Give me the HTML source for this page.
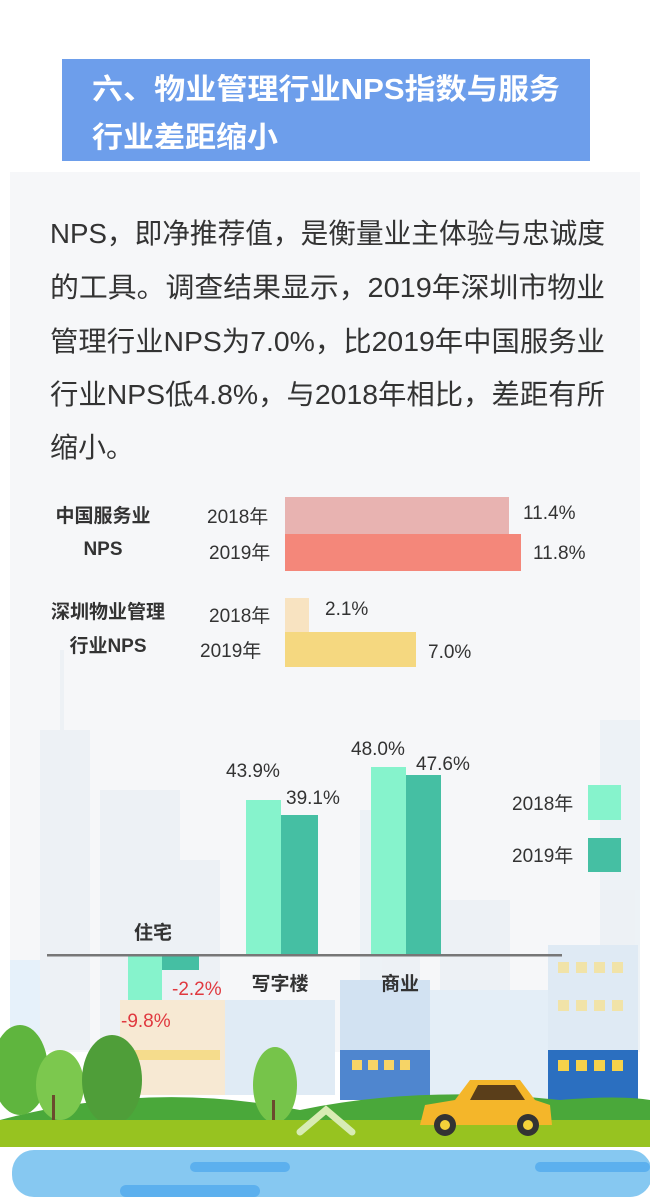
<!DOCTYPE html>
<html><head><meta charset="utf-8"><style>
html,body{margin:0;padding:0;width:650px;height:1197px;overflow:hidden;background:#fff;font-family:"Liberation Sans","Noto Sans CJK SC",sans-serif;}
svg{position:absolute;left:0;top:0}
</style></head><body>
<svg width="650" height="1197" viewBox="0 0 650 1197" font-family="Liberation Sans, Noto Sans CJK SC, sans-serif">
<!-- panel -->
<rect x="10" y="172" width="630" height="880" fill="#f6f7f9"/>
<!-- faint background buildings -->
<g fill="#e8eef4" opacity="0.6">
<rect x="40" y="730" width="50" height="320"/><rect x="60" y="650" width="4" height="80"/>
<rect x="100" y="790" width="80" height="260"/>
<rect x="180" y="860" width="40" height="190"/>
<rect x="360" y="810" width="60" height="240"/>
<rect x="440" y="900" width="70" height="150"/>
<rect x="600" y="720" width="40" height="330"/>
</g>
<!-- lower buildings visible -->
<rect x="10" y="960" width="30" height="120" fill="#e6f1fa"/>
<rect x="120" y="1000" width="105" height="95" fill="#f7e9d3"/>
<rect x="130" y="1050" width="90" height="10" fill="#f5dc8c"/>
<rect x="225" y="1000" width="110" height="95" fill="#e0ebf5"/>
<rect x="340" y="980" width="90" height="115" fill="#d2e2f2"/>
<rect x="340" y="1050" width="90" height="50" fill="#4f86cf"/>
<g fill="#f6d466"><rect x="352" y="1060" width="10" height="10"/><rect x="368" y="1060" width="10" height="10"/><rect x="384" y="1060" width="10" height="10"/><rect x="400" y="1060" width="10" height="10"/></g>
<rect x="430" y="990" width="120" height="110" fill="#e4eef7"/>
<rect x="548" y="945" width="90" height="150" fill="#dfeaf4"/>
<rect x="548" y="1050" width="90" height="50" fill="#2b6fc0"/>
<g fill="#f1e3a8"><rect x="558" y="962" width="11" height="11"/><rect x="576" y="962" width="11" height="11"/><rect x="594" y="962" width="11" height="11"/><rect x="612" y="962" width="11" height="11"/>
<rect x="558" y="1000" width="11" height="11"/><rect x="576" y="1000" width="11" height="11"/><rect x="594" y="1000" width="11" height="11"/><rect x="612" y="1000" width="11" height="11"/></g>
<g fill="#f6d24a"><rect x="558" y="1060" width="11" height="11"/><rect x="576" y="1060" width="11" height="11"/><rect x="594" y="1060" width="11" height="11"/><rect x="612" y="1060" width="11" height="11"/></g>
<!-- hills -->
<path d="M0 1120 Q150 1080 300 1110 Q420 1085 560 1100 Q620 1095 650 1100 L650 1150 L0 1150Z" fill="#4aa83a"/>
<!-- trees -->
<ellipse cx="20" cy="1070" rx="28" ry="45" fill="#5fb53e"/>
<ellipse cx="60" cy="1085" rx="24" ry="35" fill="#7cc84e"/>
<ellipse cx="112" cy="1080" rx="30" ry="45" fill="#4f9e39"/>
<ellipse cx="275" cy="1085" rx="22" ry="38" fill="#76c44a"/>
<rect x="52" y="1095" width="3" height="35" fill="#6b4a2e"/><rect x="272" y="1100" width="3" height="35" fill="#6b4a2e"/>
<!-- grass -->
<rect x="0" y="1120" width="650" height="28" fill="#97c320"/>
<!-- car -->
<path d="M420 1125 L425 1105 L455 1100 L470 1080 L520 1080 L535 1100 L550 1105 L552 1125Z" fill="#f4b62a"/>
<path d="M478 1085 L515 1085 L525 1100 L470 1100Z" fill="#5a3e1a"/>
<circle cx="445" cy="1125" r="11" fill="#333"/><circle cx="445" cy="1125" r="5" fill="#f4d23a"/>
<circle cx="528" cy="1125" r="11" fill="#333"/><circle cx="528" cy="1125" r="5" fill="#f4d23a"/>
<!-- chevron -->
<path d="M300 1132 L326 1110 L352 1132" stroke="#d8ecb4" stroke-width="7" fill="none" stroke-linecap="round"/>
<!-- water -->
<rect x="0" y="1147" width="650" height="50" fill="#ffffff"/>
<rect x="12" y="1150" width="640" height="47" rx="22" fill="#86c8f1"/>
<rect x="190" y="1162" width="100" height="10" rx="5" fill="#5cb0ee"/>
<rect x="535" y="1162" width="115" height="10" rx="5" fill="#5cb0ee"/>
<rect x="120" y="1185" width="140" height="12" rx="6" fill="#5cb0ee"/>
<!-- title -->
<rect x="62" y="59" width="528" height="102" fill="#6d9eeb"/>
<text x="92" y="99" font-size="29" font-weight="bold" fill="#fff" textLength="468" lengthAdjust="spacingAndGlyphs">六、物业管理行业NPS指数与服务</text>
<text x="92" y="147" font-size="29" font-weight="bold" fill="#fff" textLength="186" lengthAdjust="spacingAndGlyphs">行业差距缩小</text>
<!-- paragraph -->
<g font-size="28" fill="#333">
<text x="50" y="243" textLength="555" lengthAdjust="spacingAndGlyphs">NPS，即净推荐值，是衡量业主体验与忠诚度</text>
<text x="50" y="297" textLength="555" lengthAdjust="spacingAndGlyphs">的工具。调查结果显示，2019年深圳市物业</text>
<text x="50" y="351" textLength="555" lengthAdjust="spacingAndGlyphs">管理行业NPS为7.0%，比2019年中国服务业</text>
<text x="50" y="404" textLength="555" lengthAdjust="spacingAndGlyphs">行业NPS低4.8%，与2018年相比，差距有所</text>
<text x="50" y="457">缩小。</text>
</g>
<!-- horizontal bars -->
<g font-size="19" fill="#333">
<text x="103" y="522" text-anchor="middle" font-weight="bold">中国服务业</text>
<text x="103" y="555" text-anchor="middle" font-weight="bold">NPS</text>
<text x="108" y="618" text-anchor="middle" font-weight="bold">深圳物业管理</text>
<text x="108" y="652" text-anchor="middle" font-weight="bold">行业NPS</text>
<text x="207" y="523">2018年</text>
<text x="209" y="559">2019年</text>
<text x="209" y="622">2018年</text>
<text x="200" y="657">2019年</text>
<text x="523" y="519">11.4%</text>
<text x="533" y="559">11.8%</text>
<text x="325" y="615">2.1%</text>
<text x="428" y="658">7.0%</text>
</g>
<rect x="285" y="497" width="224" height="37" fill="#e8b3b1"/>
<rect x="285" y="534" width="236" height="37" fill="#f4877a"/>
<rect x="285" y="598" width="24" height="34" fill="#f8e3c1"/>
<rect x="285" y="632" width="131" height="35" fill="#f5d880"/>
<!-- column chart -->
<rect x="246" y="800" width="35" height="155" fill="#86f3cc"/>
<rect x="281" y="815" width="37" height="140" fill="#45bfa3"/>
<rect x="371" y="767" width="35" height="188" fill="#86f3cc"/>
<rect x="406" y="775" width="35" height="180" fill="#45bfa3"/>
<rect x="128" y="955" width="34" height="45" fill="#86f3cc"/>
<rect x="162" y="955" width="37" height="15" fill="#45bfa3"/>
<rect x="47" y="954" width="515" height="2.5" fill="#777"/>
<g font-size="19" fill="#333">
<text x="226" y="777">43.9%</text>
<text x="286" y="804">39.1%</text>
<text x="351" y="755">48.0%</text>
<text x="416" y="770">47.6%</text>
<text x="153" y="939" text-anchor="middle" font-weight="bold">住宅</text>
<text x="280" y="990" text-anchor="middle" font-weight="bold">写字楼</text>
<text x="400" y="990" text-anchor="middle" font-weight="bold">商业</text>
<text x="512" y="810">2018年</text>
<text x="512" y="862">2019年</text>
</g>
<text x="172" y="995" font-size="19" fill="#e0393f">-2.2%</text>
<text x="121" y="1027" font-size="19" fill="#e0393f">-9.8%</text>
<rect x="588" y="785" width="33" height="35" fill="#86f3cc"/>
<rect x="588" y="838" width="33" height="34" fill="#45bfa3"/>
</svg>
</body></html>
